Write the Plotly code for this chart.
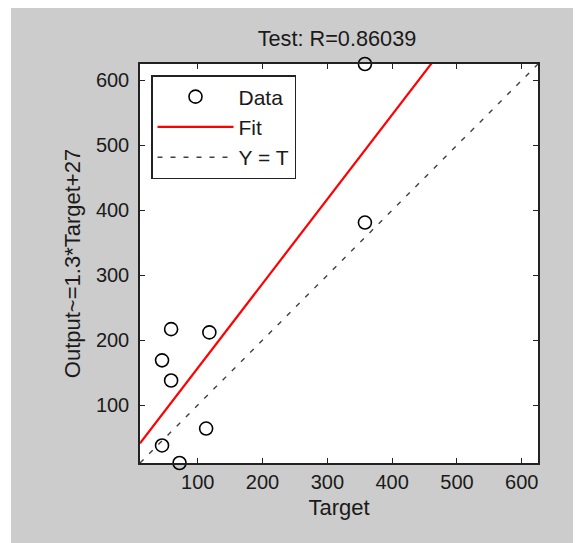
import numpy as np
import plotly.graph_objects as go

# Data
target = [358, 358, 59, 118, 45, 59, 113, 45, 72]
output = [625, 381, 217, 212, 169, 138, 64, 38, 11]
fit_slope = 1.3
fit_intercept = 27
r_value = "0.86039"
tick_vals = [100, 200, 300, 400, 500, 600]

OFF = 8  # default page body margin
W, H = 581 - OFF, 543 - OFF
ML, MR, MT, MB = 140 - OFF, 43, 64 - OFF, 80
pw = W - ML - MR
ph = H - MT - MB

lo = min(min(target), min(output))
hi = max(max(target), max(output))
xs = np.array([lo, hi], dtype=float)

fig = go.Figure()
fig.add_trace(go.Scatter(
    x=target, y=output, mode="markers", name="Data",
    marker=dict(symbol="circle-open", size=13, color="black", line=dict(width=1.6, color="black")),
    cliponaxis=False,
))
fig.add_trace(go.Scatter(
    x=xs, y=fit_slope * xs + fit_intercept, mode="lines", name="Fit",
    line=dict(color="#ff0000", width=2.2),
))
fig.add_trace(go.Scatter(
    x=xs, y=xs, mode="lines", name="Y = T",
    line=dict(color="#404040", width=1.4, dash="5px,8px"),
))

FONT = "Arial, Liberation Sans, sans-serif"
TXT = "#1a1a1a"
axis_common = dict(
    range=[lo, hi], tickvals=tick_vals, ticks="inside", ticklen=5, tickwidth=1.2,
    tickcolor="#222222", showline=True, linecolor="#222222", linewidth=1.5, mirror="allticks",
    showgrid=False, zeroline=False, tickfont=dict(family=FONT, size=20, color=TXT),
)
fig.update_xaxes(**axis_common, title=dict(text="Target", font=dict(family=FONT, size=22, color=TXT), standoff=8))
fig.update_yaxes(**axis_common, ticklabelstandoff=5,
                 title=dict(text=f"Output~={fit_slope}*Target+{fit_intercept}", font=dict(family=FONT, size=22, color=TXT), standoff=9))

def px_x(p):
    return (p - OFF - ML) / pw

def px_y(p):
    return (H - MB - (p - OFF)) / ph

fig.update_layout(
    width=W, height=H, autosize=False,
    margin=dict(l=ML, r=MR, t=MT, b=MB, pad=0),
    paper_bgcolor="#cccccc", plot_bgcolor="white",
    title=dict(text=f"Test: R={r_value}", xref="paper", x=px_x(337), xanchor="center",
               yref="container", y=1 - (38 - OFF) / H, yanchor="middle",
               font=dict(family=FONT, size=21.7, color=TXT)),
    legend=dict(x=px_x(151), y=px_y(75), xanchor="left", yanchor="top", bgcolor="white",
                bordercolor="#222222", borderwidth=1.5, font=dict(family=FONT, size=21, color=TXT),
                itemwidth=76, tracegroupgap=0),
    showlegend=True,
    shapes=[
        dict(type="rect", xref="paper", yref="paper", x0=px_x(OFF), x1=px_x(11), y0=px_y(543), y1=px_y(OFF),
             fillcolor="white", line=dict(width=0), layer="below"),
    ],
)

fig.write_html("out.html")
